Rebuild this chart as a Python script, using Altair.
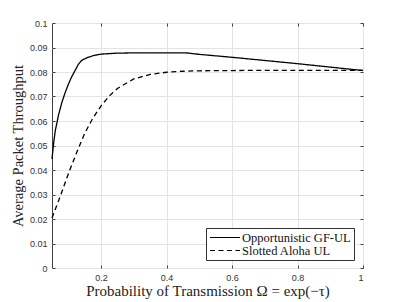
import altair as alt
import pandas as pd

series_names = ["Opportunistic GF-UL", "Slotted Aloha UL"]

x_opp = [0.05, 0.055, 0.06, 0.07, 0.08, 0.09, 0.10, 0.11, 0.12, 0.13, 0.14, 0.16, 0.18, 0.20, 0.25, 0.30, 0.35, 0.40, 0.46, 0.50, 0.60, 0.70, 0.80, 0.90, 1.00]
y_opp = [0.0445, 0.0510, 0.0560, 0.0625, 0.0675, 0.0715, 0.0750, 0.0780, 0.0805, 0.0830, 0.0847, 0.0860, 0.0868, 0.0873, 0.0877, 0.0878, 0.0878, 0.0878, 0.0878, 0.0872, 0.0860, 0.0847, 0.0834, 0.0820, 0.0806]

x_alo = [0.05, 0.075, 0.10, 0.125, 0.15, 0.175, 0.20, 0.225, 0.25, 0.30, 0.35, 0.40, 0.45, 0.50, 0.60, 0.70, 0.80, 0.90, 1.00]
y_alo = [0.0204, 0.0292, 0.0385, 0.0470, 0.0550, 0.0612, 0.0662, 0.0702, 0.0733, 0.0772, 0.0790, 0.0799, 0.0803, 0.0805, 0.0806, 0.0807, 0.0807, 0.0807, 0.0807]

y_ticks = [0, 0.01, 0.02, 0.03, 0.04, 0.05, 0.06, 0.07, 0.08, 0.09, 0.1]
x_ticks = [0.2, 0.4, 0.6, 0.8, 1.0]

rows = []
for x, y in zip(x_opp, y_opp):
    rows.append({"x": x, "y": y, "series": series_names[0]})
for x, y in zip(x_alo, y_alo):
    rows.append({"x": x, "y": y, "series": series_names[1]})
df = pd.DataFrame(rows)

SERIF = "Liberation Serif"
SANS = "Liberation Sans"
GRID = "#e3e3e3"
AX = "#404040"

xscale = alt.Scale(domain=[0.05, 1.0], nice=False, zero=False)
yscale = alt.Scale(domain=[0, 0.1], nice=False)

main = alt.Chart(df).mark_line(color="black", strokeWidth=1.3).encode(
    x=alt.X("x:Q", scale=xscale,
            axis=alt.Axis(values=x_ticks, format="~g", orient="bottom",
                          title="Probability of Transmission Ω = exp(−τ)",
                          titleFont=SERIF, titleFontSize=15, titleFontWeight="normal",
                          titleColor="#222", titlePadding=1,
                          labelFont=SANS, labelFontSize=9, labelColor="#333",
                          labelPadding=5, tickSize=3, offset=-3, tickColor=AX,
                          domain=False, grid=True, gridColor=GRID)),
    y=alt.Y("y:Q", scale=yscale,
            axis=alt.Axis(values=y_ticks, format=".2~f", orient="left",
                          title="Average Packet Throughput",
                          titleFont=SERIF, titleFontSize=14.5, titleFontWeight="normal",
                          titleColor="#222", titlePadding=4,
                          labelFont=SANS, labelFontSize=9, labelColor="#333",
                          labelPadding=5, tickSize=3, offset=-3, tickColor=AX,
                          domain=False, grid=True, gridColor=GRID)),
    strokeDash=alt.StrokeDash("series:N",
                              scale=alt.Scale(domain=series_names, range=[[1, 0], [5, 3.5]]),
                              legend=alt.Legend(title=None, orient="none", legendX=154, legendY=205,
                                                symbolType="stroke", symbolSize=900,
                                                symbolStrokeColor="black", symbolStrokeWidth=1.2,
                                                clipHeight=13,
                                                labelFont=SERIF, labelFontSize=12.5, labelColor="#111",
                                                labelOffset=1, rowPadding=0, padding=3,
                                                fillColor="white", strokeColor="#333")),
)

frame = alt.Chart(df).mark_line(opacity=0).encode(
    x=alt.X("x:Q", scale=xscale,
            axis=alt.Axis(values=x_ticks, orient="top", labels=False, title=None,
                          tickSize=3, offset=-3, tickColor=AX, domain=False, grid=False)),
    y=alt.Y("y:Q", scale=yscale,
            axis=alt.Axis(values=y_ticks, orient="right", labels=False, title=None,
                          tickSize=3, offset=-3, tickColor=AX, domain=False, grid=False)),
    detail="series:N",
)

chart = alt.layer(main, frame).resolve_axis(x="independent", y="independent").properties(
    width=311, height=245,
    autosize="none",
    padding={"left": 44, "top": 15, "right": 30, "bottom": 32},
    background="white",
).configure_view(stroke=AX, strokeWidth=1)

chart.save("out.html", embed_options={"renderer": "svg", "actions": False})
